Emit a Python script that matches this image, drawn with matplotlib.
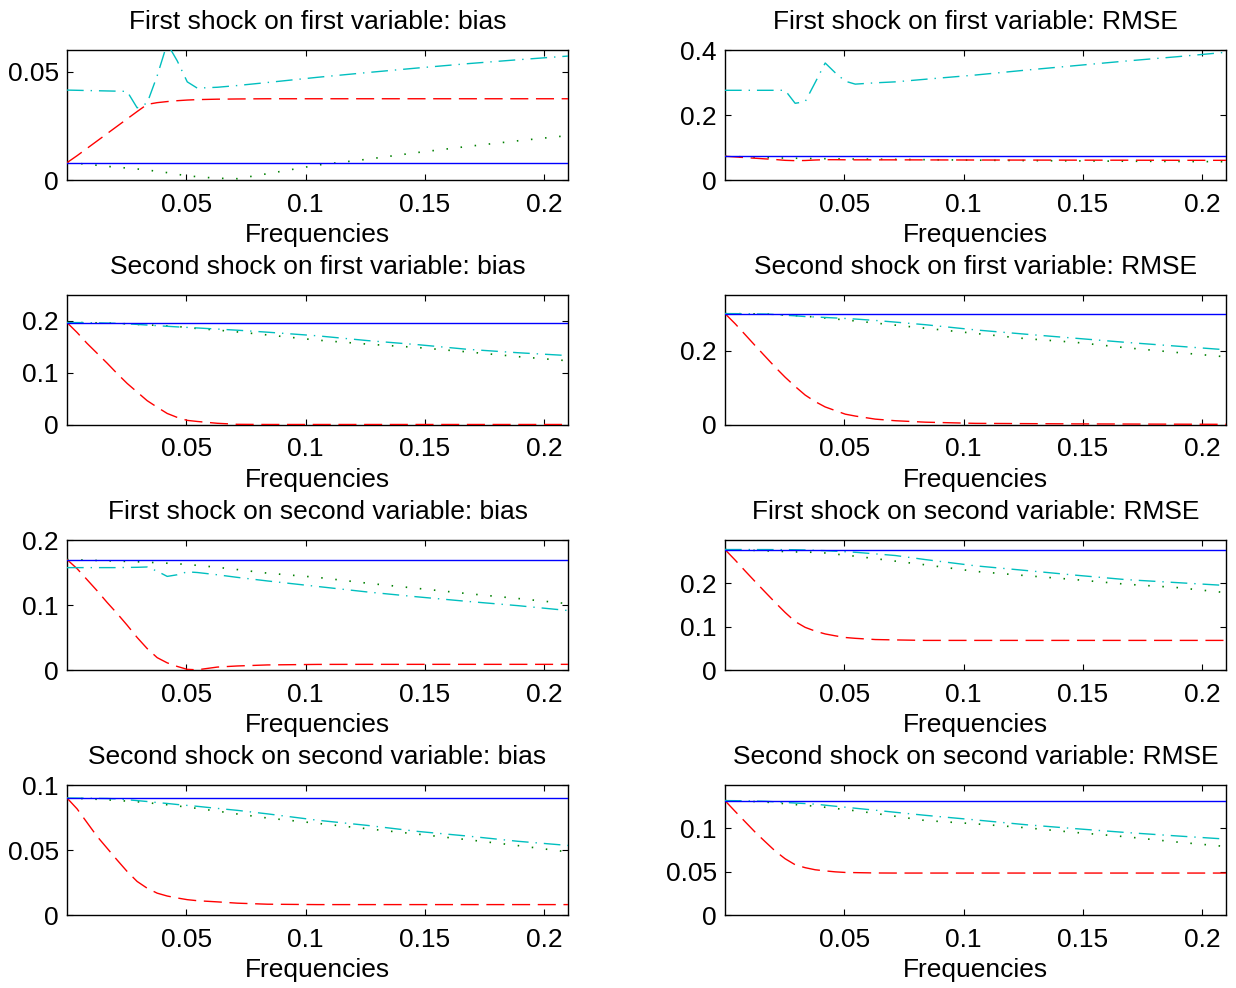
import matplotlib
matplotlib.use("Agg")
import matplotlib.pyplot as plt

plt.rcParams['font.family'] = ['Liberation Sans', 'DejaVu Sans']

freq = [0.0, 0.0042, 0.0084, 0.0126, 0.0168, 0.021, 0.0252, 0.0294, 0.0336, 0.0378,
        0.042, 0.0462, 0.0504, 0.0546, 0.063, 0.0714, 0.084, 0.105, 0.126, 0.147,
        0.168, 0.189, 0.21]

# Panel 1: First shock on first variable: bias
true_11b = 0.008
red_11b = [0.0080, 0.0112, 0.0146, 0.0180, 0.0214, 0.0248, 0.0282, 0.0316, 0.0349, 0.0357, 0.0362, 0.0366, 0.0369, 0.0371, 0.0373, 0.0374, 0.0375, 0.0375, 0.0375, 0.0375, 0.0375, 0.0375, 0.0375]
green_11b = [0.0080, 0.0077, 0.0073, 0.0068, 0.0063, 0.0059, 0.0055, 0.0051, 0.0046, 0.0040, 0.0034, 0.0026, 0.0020, 0.0015, 0.0008, 0.0006, 0.0029, 0.0069, 0.0096, 0.0127, 0.0155, 0.0181, 0.0205]
cyan_11b = [0.0415, 0.0414, 0.0413, 0.0412, 0.0411, 0.0410, 0.0409, 0.0333, 0.0355, 0.0481, 0.0630, 0.0550, 0.0453, 0.0424, 0.0428, 0.0436, 0.0450, 0.0474, 0.0496, 0.0517, 0.0537, 0.0555, 0.0572]

# Panel 2: First shock on first variable: RMSE
true_11r = 0.073
red_11r = [0.073, 0.071, 0.069, 0.067, 0.065, 0.063, 0.0605, 0.0595, 0.060, 0.0615, 0.0625, 0.0625, 0.0622, 0.062, 0.062, 0.062, 0.0618, 0.0615, 0.0613, 0.0611, 0.0609, 0.0607, 0.0605]
green_11r = [0.073, 0.072, 0.071, 0.070, 0.069, 0.068, 0.0675, 0.067, 0.0665, 0.066, 0.0655, 0.065, 0.0648, 0.0645, 0.064, 0.0635, 0.0625, 0.061, 0.0597, 0.0587, 0.0578, 0.057, 0.0563]
cyan_11r = [0.276, 0.276, 0.276, 0.276, 0.276, 0.276, 0.276, 0.236, 0.241, 0.300, 0.360, 0.330, 0.304, 0.295, 0.299, 0.302, 0.310, 0.323, 0.338, 0.352, 0.366, 0.379, 0.393]

# Panel 3: Second shock on first variable: bias
true_21b = 0.197
red_21b = [0.197, 0.178, 0.157, 0.138, 0.119, 0.099, 0.080, 0.0634, 0.0468, 0.0342, 0.0222, 0.0146, 0.0089, 0.0068, 0.0033, 0.0013, 0.001, 0.001, 0.001, 0.001, 0.001, 0.001, 0.001]
green_21b = [0.197, 0.197, 0.1968, 0.1965, 0.1962, 0.1955, 0.1945, 0.1935, 0.1925, 0.1915, 0.1905, 0.1895, 0.1875, 0.1855, 0.1825, 0.179, 0.1732, 0.1632, 0.1555, 0.149, 0.1405, 0.1315, 0.1235]
cyan_21b = [0.197, 0.197, 0.1968, 0.1965, 0.196, 0.1955, 0.1945, 0.1935, 0.1922, 0.191, 0.1898, 0.1887, 0.1877, 0.1866, 0.1845, 0.1823, 0.1785, 0.1715, 0.1623, 0.1545, 0.1455, 0.139, 0.1335]

# Panel 4: Second shock on first variable: RMSE
true_21r = 0.300
red_21r = [0.300, 0.273, 0.2436, 0.214, 0.185, 0.156, 0.1287, 0.1038, 0.0806, 0.063, 0.0486, 0.0389, 0.0292, 0.0241, 0.0158, 0.0115, 0.0076, 0.0044, 0.0037, 0.003, 0.0026, 0.0022, 0.0018]
green_21r = [0.300, 0.2998, 0.2995, 0.2992, 0.2988, 0.2978, 0.296, 0.2945, 0.2928, 0.2906, 0.288, 0.2855, 0.2828, 0.2802, 0.2745, 0.2688, 0.2605, 0.2465, 0.2325, 0.2225, 0.208, 0.1955, 0.1835]
cyan_21r = [0.300, 0.2998, 0.2995, 0.299, 0.2987, 0.2975, 0.2955, 0.294, 0.292, 0.2908, 0.2895, 0.2882, 0.2868, 0.2853, 0.2815, 0.277, 0.270, 0.256, 0.2445, 0.2335, 0.2225, 0.2125, 0.2025]

# Panel 5: First shock on second variable: bias
true_12b = 0.170
red_12b = [0.170, 0.156, 0.139, 0.122, 0.104, 0.087, 0.069, 0.050, 0.033, 0.019, 0.011, 0.0055, 0.001, 0.0003, 0.0045, 0.0062, 0.0078, 0.0086, 0.0087, 0.0087, 0.0087, 0.0087, 0.0087]
green_12b = [0.170, 0.1695, 0.169, 0.1685, 0.168, 0.1675, 0.167, 0.1665, 0.1658, 0.165, 0.1643, 0.1635, 0.1622, 0.161, 0.158, 0.1545, 0.149, 0.1425, 0.1335, 0.1255, 0.1175, 0.110, 0.102]
cyan_12b = [0.1575, 0.1575, 0.1575, 0.1575, 0.1575, 0.1575, 0.1578, 0.158, 0.1585, 0.152, 0.144, 0.1465, 0.151, 0.150, 0.1465, 0.1425, 0.137, 0.1285, 0.120, 0.1125, 0.1055, 0.099, 0.0915]

# Panel 6: First shock on second variable: RMSE
true_12r = 0.278
red_12r = [0.278, 0.254, 0.2288, 0.2042, 0.180, 0.156, 0.1328, 0.1118, 0.0984, 0.0898, 0.0832, 0.0789, 0.075, 0.0731, 0.0703, 0.0694, 0.0683, 0.0683, 0.0683, 0.0683, 0.0683, 0.0683, 0.0683]
green_12r = [0.278, 0.2775, 0.277, 0.276, 0.275, 0.2742, 0.2733, 0.2725, 0.272, 0.2716, 0.270, 0.2676, 0.265, 0.2626, 0.257, 0.2512, 0.2427, 0.2275, 0.2178, 0.2085, 0.198, 0.1905, 0.1785]
cyan_12r = [0.278, 0.278, 0.278, 0.2779, 0.2779, 0.2778, 0.2778, 0.2775, 0.277, 0.2762, 0.2754, 0.2742, 0.2729, 0.2717, 0.268, 0.2642, 0.2548, 0.2404, 0.2297, 0.2188, 0.2086, 0.2018, 0.195]

# Panel 7: Second shock on second variable: bias
true_22b = 0.090
red_22b = [0.090, 0.0817, 0.0711, 0.0605, 0.0514, 0.0423, 0.0335, 0.0258, 0.0206, 0.0168, 0.0146, 0.0131, 0.0118, 0.011, 0.0101, 0.0091, 0.0083, 0.008, 0.008, 0.008, 0.008, 0.008, 0.008]
green_22b = [0.090, 0.0897, 0.0894, 0.089, 0.0886, 0.0881, 0.0876, 0.0871, 0.0864, 0.0856, 0.0848, 0.0839, 0.083, 0.082, 0.0799, 0.0777, 0.0746, 0.0705, 0.0663, 0.0622, 0.0579, 0.0534, 0.0485]
cyan_22b = [0.090, 0.0899, 0.0898, 0.0897, 0.0896, 0.0893, 0.0887, 0.088, 0.0873, 0.0865, 0.0858, 0.085, 0.0843, 0.0836, 0.082, 0.0805, 0.0778, 0.0729, 0.0689, 0.0643, 0.0607, 0.0567, 0.0535]

# Panel 8: Second shock on second variable: RMSE
true_22r = 0.132
red_22r = [0.132, 0.1197, 0.1077, 0.0957, 0.0847, 0.0739, 0.0649, 0.0580, 0.0546, 0.0522, 0.0509, 0.0498, 0.0491, 0.0489, 0.0485, 0.0484, 0.0484, 0.0484, 0.0484, 0.0484, 0.0484, 0.0484, 0.0484]
green_22r = [0.132, 0.1317, 0.1313, 0.1309, 0.1303, 0.1294, 0.1284, 0.1274, 0.1264, 0.1256, 0.1243, 0.123, 0.1216, 0.1203, 0.1172, 0.1139, 0.109, 0.1052, 0.1007, 0.0952, 0.0903, 0.0843, 0.079]
cyan_22r = [0.132, 0.1319, 0.1317, 0.1315, 0.1312, 0.1306, 0.1298, 0.1292, 0.1286, 0.1279, 0.1267, 0.1255, 0.1244, 0.1232, 0.1209, 0.1185, 0.115, 0.1097, 0.1042, 0.0996, 0.0952, 0.0913, 0.0876]

titles = ["First shock on first variable: bias", "First shock on first variable: RMSE",
          "Second shock on first variable: bias", "Second shock on first variable: RMSE",
          "First shock on second variable: bias", "First shock on second variable: RMSE",
          "Second shock on second variable: bias", "Second shock on second variable: RMSE"]
ylims = [0.06, 0.4, 0.25, 0.35, 0.2, 0.3, 0.1, 0.15]
yticks = [[0, 0.05], [0, 0.2, 0.4], [0, 0.1, 0.2], [0, 0.2],
          [0, 0.1, 0.2], [0, 0.1, 0.2], [0, 0.05, 0.1], [0, 0.05, 0.1]]
ytick_labels = [["0", "0.05"], ["0", "0.2", "0.4"], ["0", "0.1", "0.2"], ["0", "0.2"],
                ["0", "0.1", "0.2"], ["0", "0.1", "0.2"], ["0", "0.05", "0.1"], ["0", "0.05", "0.1"]]
xticks = [0.05, 0.1, 0.15, 0.2]
xtick_labels = ["0.05", "0.1", "0.15", "0.2"]

trues = [true_11b, true_11r, true_21b, true_21r, true_12b, true_12r, true_22b, true_22r]
reds = [red_11b, red_11r, red_21b, red_21r, red_12b, red_12r, red_22b, red_22r]
greens = [green_11b, green_11r, green_21b, green_21r, green_12b, green_12r, green_22b, green_22r]
cyans = [cyan_11b, cyan_11r, cyan_21b, cyan_21r, cyan_12b, cyan_12r, cyan_22b, cyan_22r]

W, H = 1236, 988
fig = plt.figure(figsize=(W / 100, H / 100), dpi=100)

col_left = [67, 725]
row_top = [50, 295, 540, 785]
ax_w, ax_h = 501, 130
FS = 19

for i in range(8):
    r, c = divmod(i, 2)
    x0 = col_left[c]
    y0 = row_top[r]
    ax = fig.add_axes([x0 / W, 1 - (y0 + ax_h) / H, ax_w / W, ax_h / H])
    ax.plot(freq, [trues[i]] * len(freq), color=(0, 0, 1), lw=1.0, zorder=4)
    ax.plot(freq, greens[i], color=(0, 0.5, 0), lw=1.2, linestyle=(0, (0.9, 7.6)), zorder=3)
    ax.plot(freq, reds[i], color=(1, 0, 0), lw=1.0, linestyle=(0, (13, 5.5)), zorder=3)
    ax.plot(freq, cyans[i], color=(0, 0.75, 0.75), lw=1.0, linestyle=(0, (12, 5, 1, 5)), zorder=3)
    ax.set_xlim(0, 0.21)
    ax.set_ylim(0, ylims[i])
    ax.set_xticks(xticks)
    ax.set_xticklabels(xtick_labels)
    ax.set_yticks(yticks[i])
    ax.set_yticklabels(ytick_labels[i])
    ax.tick_params(direction='in', top=True, right=True, length=4, width=0.8,
                   labelsize=FS, pad=6)
    ax.tick_params(axis='x', pad=9)
    for s in ax.spines.values():
        s.set_linewidth(1.0)
    ax.set_title(titles[i], fontsize=FS, pad=15)
    ax.set_xlabel("Frequencies", fontsize=FS, labelpad=5)

fig.savefig("out.png", dpi=100)
